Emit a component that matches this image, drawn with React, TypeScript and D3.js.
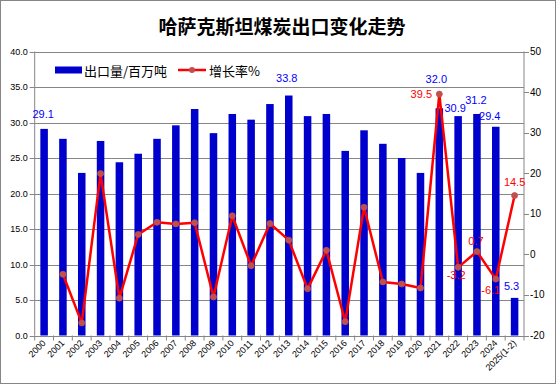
import React from 'react';
import * as d3 from 'd3';

// 哈萨克斯坦煤炭出口 (百万吨) 与增长率 (%)
const years = [
  '2000', '2001', '2002', '2003', '2004', '2005', '2006', '2007', '2008', '2009',
  '2010', '2011', '2012', '2013', '2014', '2015', '2016', '2017', '2018', '2019',
  '2020', '2021', '2022', '2023', '2024', '2025(1-2)'
];
const exportVolume = [
  29.1, 27.7, 22.9, 27.4, 24.4, 25.6, 27.7, 29.6, 31.9, 28.5,
  31.2, 30.4, 32.6, 33.8, 30.9, 31.2, 26.0, 28.9, 27.0, 25.0,
  22.9, 32.0, 30.9, 31.2, 29.4, 5.3
];
const growthRate = [
  null, -4.9, -16.9, 19.9, -10.8, 4.9, 7.9, 7.5, 7.8, -10.5,
  9.5, -2.8, 7.6, 3.5, -8.5, 1.0, -16.6, 11.6, -6.8, -7.3,
  -8.3, 39.5, -3.2, 0.7, -6.1, 14.5
];
const leftTicks = [0, 5, 10, 15, 20, 25, 30, 35, 40];
const rightTicks = [-20, -10, 0, 10, 20, 30, 40, 50];
const labeledBars = ['2000', '2013', '2021', '2022', '2023', '2024', '2025(1-2)'];
const labeledPoints = ['2021', '2022', '2023', '2024', '2025(1-2)'];

const W = 556;
const H = 384;
const plot = { left: 34.7, right: 524, top: 51.5, bottom: 335.5 };
const numFont = '"Liberation Sans", Arial, sans-serif';
const cjkFont = '"Noto Sans CJK SC", "Noto Sans", sans-serif';

// manual nudges for the data labels (like the hand-placed labels in the original)
const barNudge: Record<string, [number, number]> = {
  '2000': [-1, -15], '2013': [-2, -17], '2021': [-3, -29], '2022': [-3, -8],
  '2023': [-1, -14], '2024': [-6, -11], '2025(1-2)': [-3, -12]
};
const pointNudge: Record<string, [number, number]> = {
  '2021': [-18, 0], '2022': [-2, 8], '2023': [-1, -10.5], '2024': [-5, 10.6], '2025(1-2)': [0, -13]
};

const fmt1 = (v: number) => v.toFixed(1);

export default function App() {
  const x = d3.scaleBand<string>()
    .domain(years)
    .range([plot.left, plot.right])
    .paddingInner(0.6)
    .paddingOuter(0.3);
  const yL = d3.scaleLinear().domain([0, 40]).range([plot.bottom, plot.top]);
  const yR = d3.scaleLinear().domain([-20, 50]).range([plot.bottom, plot.top]);
  const cx = (c: string) => (x(c) as number) + x.bandwidth() / 2;
  const step = x.step();

  const pts = years
    .map((c, i) => ({ c, v: growthRate[i] }))
    .filter(d => d.v !== null) as { c: string; v: number }[];
  const line = d3.line<{ c: string; v: number }>()
    .x(d => cx(d.c))
    .y(d => yR(d.v));

  const boundaries = d3.range(years.length + 1).map(i => plot.left + i * step);

  return (
    <svg width={W} height={H} style={{ position: 'absolute', left: 0, top: 0, background: '#fff' }}>
      <rect x={0.5} y={0.5} width={W - 1} height={H - 1} fill="#fff" stroke="#868686" />

      <text x={282} y={34} textAnchor="middle" fontFamily={cjkFont} fontSize={19} fontWeight="bold" fill="#000">
        哈萨克斯坦煤炭出口变化走势
      </text>

      {/* gridlines */}
      {leftTicks.map(t => (
        <line key={'g' + t} x1={plot.left} x2={plot.right} y1={Math.round(yL(t)) + 0.5} y2={Math.round(yL(t)) + 0.5}
          stroke="#868686" strokeWidth={1} />
      ))}

      {/* bars */}
      {years.map((c, i) => (
        <rect key={'b' + c} x={x(c)} y={yL(exportVolume[i])} width={x.bandwidth()}
          height={plot.bottom - yL(exportVolume[i])} fill="#0000cc" />
      ))}

      {/* axes */}
      <line x1={plot.left} x2={plot.left} y1={plot.top} y2={plot.bottom} stroke="#868686" />
      <line x1={plot.right} x2={plot.right} y1={plot.top} y2={plot.bottom} stroke="#868686" />
      <line x1={plot.left} x2={plot.right} y1={Math.round(plot.bottom) + 0.5} y2={Math.round(plot.bottom) + 0.5} stroke="#868686" />
      {leftTicks.map(t => (
        <g key={'lt' + t}>
          <line x1={plot.left - 5} x2={plot.left} y1={Math.round(yL(t)) + 0.5} y2={Math.round(yL(t)) + 0.5} stroke="#868686" />
          <text x={plot.left - 7} y={yL(t) + 3} textAnchor="end" fontFamily={numFont} fontSize={9} fill="#000">
            {fmt1(t)}
          </text>
        </g>
      ))}
      {rightTicks.map(t => (
        <g key={'rt' + t}>
          <line x1={plot.right} x2={plot.right + 5} y1={Math.round(yR(t)) + 0.5} y2={Math.round(yR(t)) + 0.5} stroke="#868686" />
          <text x={plot.right + 6} y={yR(t) + 3.5} textAnchor="start" fontFamily={numFont} fontSize={10} fill="#000">
            {String(t)}
          </text>
        </g>
      ))}
      {boundaries.map((b, i) => (
        <line key={'xt' + i} x1={b} x2={b} y1={plot.bottom} y2={plot.bottom + 5} stroke="#868686" />
      ))}
      {years.map(c => (
        <text key={'xl' + c} transform={`translate(${cx(c)},${plot.bottom + 6}) rotate(-45)`}
          textAnchor="end" dy="0.35em" fontFamily={numFont} fontSize={9} fill="#000">
          {c}
        </text>
      ))}

      {/* growth line */}
      <path d={line(pts) || ''} fill="none" stroke="#ff0000" strokeWidth={2.5} strokeLinejoin="round" />
      {pts.map(d => (
        <circle key={'p' + d.c} cx={cx(d.c)} cy={yR(d.v)} r={3} fill="#c0504d" stroke="#c0504d" strokeWidth={0.8} />
      ))}

      {/* data labels */}
      {labeledBars.map(c => {
        const i = years.indexOf(c);
        const [dx, dy] = barNudge[c];
        return (
          <text key={'bl' + c} x={cx(c) + dx} y={yL(exportVolume[i]) + dy} textAnchor="middle" dy="0.35em"
            fontFamily={numFont} fontSize={11} fill="#0000ff">
            {fmt1(exportVolume[i])}
          </text>
        );
      })}
      {labeledPoints.map(c => {
        const i = years.indexOf(c);
        const v = growthRate[i] as number;
        const [dx, dy] = pointNudge[c];
        return (
          <text key={'pl' + c} x={cx(c) + dx} y={yR(v) + dy} textAnchor="middle" dy="0.35em"
            fontFamily={numFont} fontSize={11} fill="#ff0000">
            {fmt1(v)}
          </text>
        );
      })}

      {/* legend */}
      <rect x={55} y={66.5} width={27} height={7} fill="#0000cc" />
      <text x={84} y={71} dy="0.35em" fontFamily={cjkFont} fontSize={13} fill="#000">出口量/百万吨</text>
      <line x1={178} x2={206} y1={70} y2={70} stroke="#ff0000" strokeWidth={2.5} />
      <circle cx={192} cy={70} r={3} fill="#c0504d" />
      <text x={209} y={71} dy="0.35em" fontFamily={cjkFont} fontSize={13} fill="#000">增长率%</text>
    </svg>
  );
}
